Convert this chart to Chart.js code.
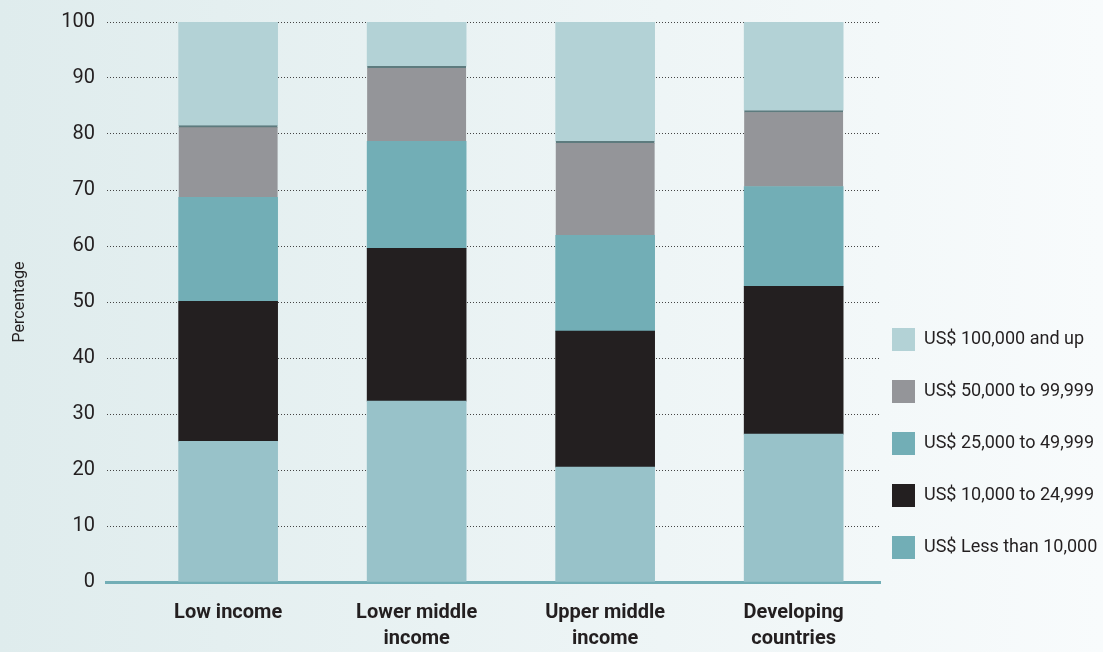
<!DOCTYPE html>
<html lang="en">
<head>
    <meta charset="UTF-8">
    <title>Income distribution</title>
    <style>
        html, body { margin: 0; padding: 0; }
        body {
            width: 1103px; height: 652px; overflow: hidden;
            background: linear-gradient(to right, #dfeced, #f8fbfc);
        }
    </style>
</head>
<body>
    <canvas id="myChart" width="1103" height="652"></canvas>
    <script src="https://cdn.jsdelivr.net/npm/chart.js"></script>
    <script>
        const categories = [['Low income'], ['Lower middle', 'income'], ['Upper middle', 'income'], ['Developing', 'countries']];
        const seriesNames = ['US$ Less than 10,000', 'US$ 10,000 to 24,999', 'US$ 25,000 to 49,999', 'US$ 50,000 to 99,999', 'US$ 100,000 and up'];
        const lessThan10k = [25.1, 32.3, 20.5, 26.4];
        const from10kTo25k = [25.0, 27.3, 24.3, 26.4];
        const from25kTo50k = [18.6, 19.1, 17.1, 17.8];
        const from50kTo100k = [12.8, 13.4, 16.8, 13.6];
        const over100k = [18.5, 7.9, 21.3, 15.8];
        const yTicks = [0, 10, 20, 30, 40, 50, 60, 70, 80, 90, 100];

        const barColors = ['#98c2c9', '#231f20', '#72aeb6', '#949599', '#b3d2d6'];
        const legendColors = ['#72aeb6', '#231f20', '#72aeb6', '#949599', '#b3d2d6'];
        const fontFamily = "Roboto, 'Noto Sans', sans-serif";
        const ink = '#231f20';

        const series = [lessThan10k, from10kTo25k, from25kTo50k, from50kTo100k, over100k];

        const datasets = series.map((vals, s) => ({
            label: seriesNames[s],
            data: vals.map((v, i) => ({x: i, y: v})),
            backgroundColor: barColors[s],
            borderColor: '#5d7b7e',
            borderWidth: s === 3 ? {top: 2, left: 0, right: 0, bottom: 0} : 0,
            borderSkipped: false,
            barThickness: 99
        }));

        // legend is narrower than its text so the plot reaches further right,
        // then nudged left/down a bit so the swatches sit where they should
        const legendShift = {
            id: 'legendShift',
            afterLayout(chart) {
                chart.legend.left -= 17;
                chart.legend.bottom += 6;
            }
        };

        const canvas = document.getElementById('myChart');
        new Chart(canvas, {
            type: 'bar',
            data: {datasets: datasets},
            plugins: [legendShift],
            options: {
                responsive: false,
                animation: false,
                layout: {padding: {top: 7, right: 0, left: 10, bottom: -18}},
                plugins: {
                    tooltip: {enabled: false},
                    legend: {
                        position: 'right',
                        align: 'end',
                        fullSize: false,
                        reverse: true,
                        maxWidth: 223,
                        labels: {
                            boxWidth: 23,
                            boxHeight: 23,
                            padding: 29,
                            color: ink,
                            font: {family: fontFamily, size: 18},
                            generateLabels: (chart) => {
                                const items = Chart.defaults.plugins.legend.labels.generateLabels(chart);
                                items.forEach(it => {
                                    it.fillStyle = legendColors[it.datasetIndex];
                                    it.lineWidth = 0;
                                });
                                return items;
                            }
                        }
                    }
                },
                scales: {
                    x: {
                        type: 'linear',
                        stacked: true,
                        offset: false,
                        min: -0.643,
                        max: 3.458,
                        afterBuildTicks: (axis) => {
                            axis.ticks = categories.map((c, i) => ({value: i}));
                        },
                        grid: {display: false, drawTicks: false},
                        border: {display: true, color: '#72aeb6', width: 3},
                        ticks: {
                            color: ink,
                            padding: 18,
                            maxRotation: 0,
                            autoSkip: false,
                            font: {family: fontFamily, size: 20, weight: 'bold', lineHeight: 1.3},
                            callback: (value) => categories[value]
                        }
                    },
                    y: {
                        stacked: true,
                        min: 0,
                        max: 100,
                        afterBuildTicks: (axis) => {
                            axis.ticks = yTicks.map(v => ({value: v}));
                        },
                        border: {display: false, dash: [1, 2]},
                        grid: {
                            color: '#444',
                            lineWidth: 1,
                            drawTicks: false
                        },
                        ticks: {
                            color: ink,
                            padding: 12,
                            font: {family: fontFamily, size: 20, lineHeight: 1}
                        },
                        title: {
                            display: true,
                            text: 'Percentage',
                            color: ink,
                            padding: {top: 0, bottom: 20},
                            font: {family: fontFamily, size: 16}
                        }
                    }
                }
            }
        });
    </script>
</body>
</html>
